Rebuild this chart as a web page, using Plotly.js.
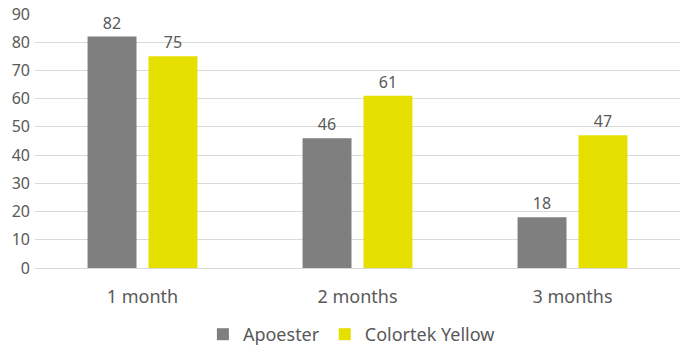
<!DOCTYPE html>
<html><head><meta charset="utf-8">
<script src="https://cdn.plot.ly/plotly-3.0.1.min.js"></script>
<style>html,body{margin:0;padding:0;background:#fff}#c{width:689px;height:353px}</style>
</head><body><div id="c"></div>
<script>
const categories = ["1 month", "2 months", "3 months"];
const apoester = [82, 46, 18];
const colortek = [75, 61, 47];
const yTicks = [0,10,20,30,40,50,60,70,80,90];

const fam = "Noto Sans, Liberation Sans, sans-serif";
const numFont = {family: fam, size: 16, color: "#595959"};
const bigFont = {family: fam, size: 18, color: "#595959"};
const traces = [
  {type:"bar", name:"Apoester", x:categories, y:apoester, marker:{color:"#7f7f7f"},
   text:apoester.map(String), textposition:"outside", cliponaxis:false, textfont:numFont},
  {type:"bar", name:"Colortek Yellow", x:categories, y:colortek, marker:{color:"#e6e000"},
   text:colortek.map(String), textposition:"outside", cliponaxis:false, textfont:numFont}
];
const layout = {
  width:689, height:353,
  margin:{l:35, r:9, t:14, b:85},
  paper_bgcolor:"#fff", plot_bgcolor:"#fff",
  font: numFont,
  barmode:"group", bargap:0.433, bargroupgap:0.197,
  xaxis:{showgrid:false, showline:false, zeroline:false, ticks:"", tickfont:bigFont,
         ticklabelstandoff:16, automargin:false},
  yaxis:{range:[0,90], tickvals:yTicks, showgrid:true, gridcolor:"#d9d9d9", gridwidth:1,
         zeroline:true, zerolinecolor:"#d9d9d9", zerolinewidth:1, ticks:"", ticklabelstandoff:4,
         tickfont:numFont, fixedrange:true, automargin:false},
  showlegend:true,
  legend:{orientation:"h", x:0.51, xref:"container", xanchor:"center", y:-0.018, yref:"container", yanchor:"bottom",
          font:bigFont, itemwidth:30, traceorder:"normal", tracegroupgap:0}
};
Plotly.newPlot("c", traces, layout, {displayModeBar:false, staticPlot:true});
</script></body></html>
